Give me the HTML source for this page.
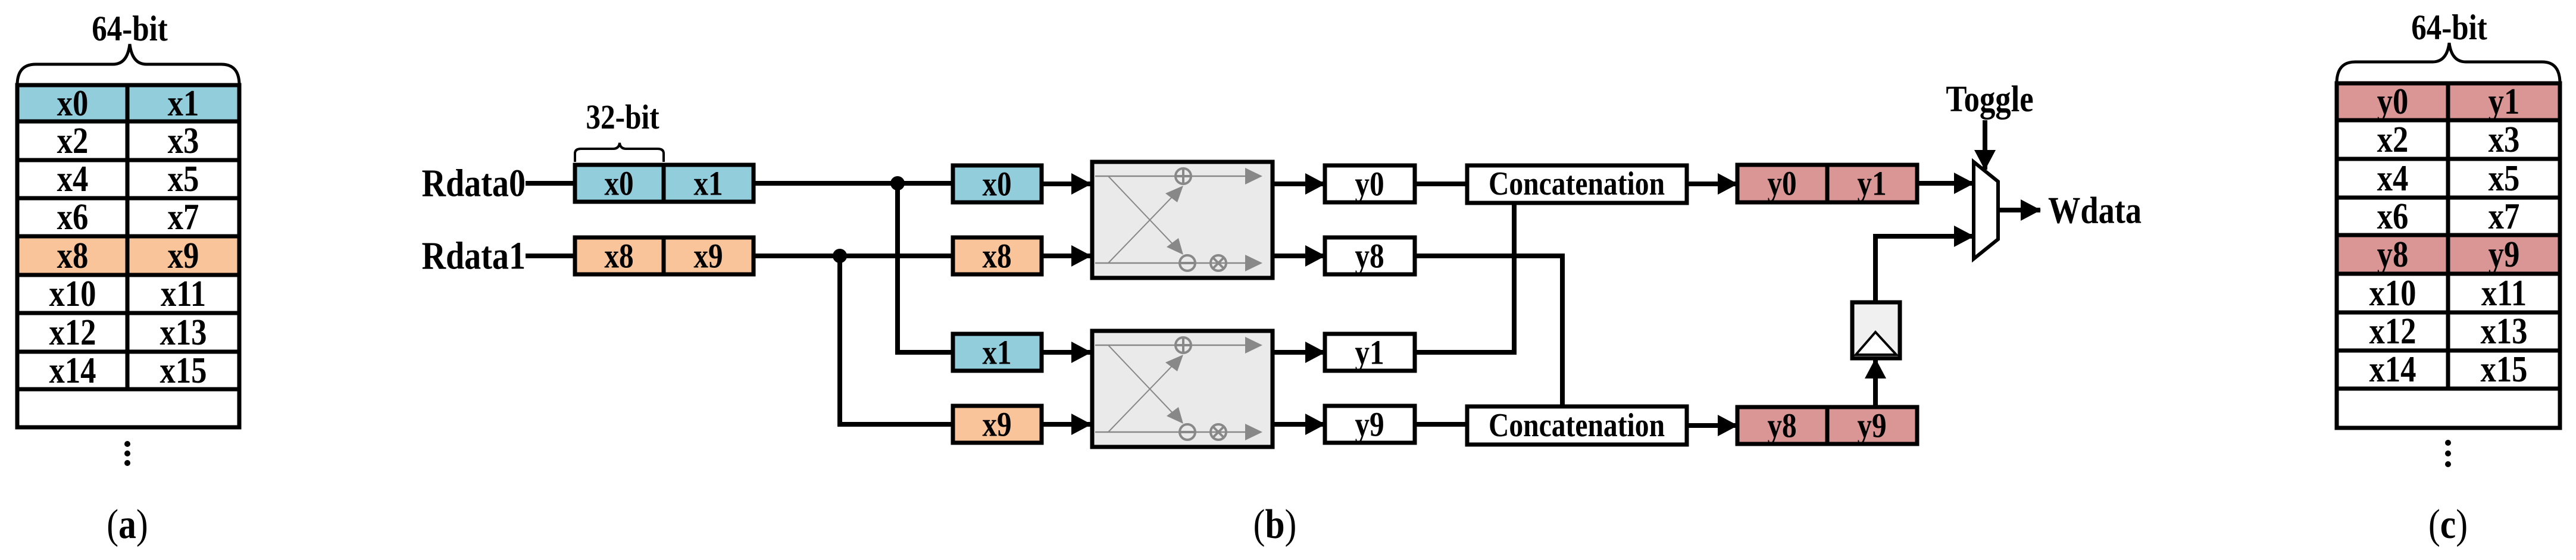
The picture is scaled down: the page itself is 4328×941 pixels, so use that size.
<!DOCTYPE html>
<html><head><meta charset="utf-8"><style>
html,body{margin:0;padding:0;background:#fff;}
svg{display:block;}
text{font-family:"Liberation Serif",serif;font-weight:bold;fill:#000;transform-box:fill-box;transform-origin:center;transform:scaleX(0.85);}
text.r{transform-origin:right center;}
text.l{transform-origin:left center;}
</style></head><body>
<svg width="4328" height="941" viewBox="0 0 4328 941" xmlns="http://www.w3.org/2000/svg">
<defs>
<marker id="ah" markerWidth="34" markerHeight="36" refX="33" refY="18" orient="auto" markerUnits="userSpaceOnUse">
<path d="M0,0 L34,18 L0,36 Z" fill="#000"/></marker>
</defs>

<!-- Table (a) -->
<g stroke="#000" stroke-width="7">
<rect x="29" y="143" width="373" height="61" fill="#92CDDC"/>
<rect x="29" y="397" width="373" height="65" fill="#F9C49A"/>
<rect x="29" y="143" width="373" height="575" fill="none"/>
<line x1="29" y1="204" x2="402" y2="204"/><line x1="29" y1="269" x2="402" y2="269"/>
<line x1="29" y1="333" x2="402" y2="333"/><line x1="29" y1="397" x2="402" y2="397"/>
<line x1="29" y1="462" x2="402" y2="462"/><line x1="29" y1="526" x2="402" y2="526"/>
<line x1="29" y1="591" x2="402" y2="591"/><line x1="29" y1="654" x2="402" y2="654"/>
<line x1="214" y1="143" x2="214" y2="654"/>
</g>
<path d="M29,143 Q29,108 60,108 L190,108 Q214,108 218,74 Q222,108 246,108 L372,108 Q402,108 402,143" fill="none" stroke="#000" stroke-width="5"/>
<text x="218" y="68" font-size="60" text-anchor="middle">64-bit</text>
<g font-size="62" text-anchor="middle" dominant-baseline="central">
<text x="122" y="174">x0</text><text x="308" y="174">x1</text>
<text x="122" y="237">x2</text><text x="308" y="237">x3</text>
<text x="122" y="301">x4</text><text x="308" y="301">x5</text>
<text x="122" y="365">x6</text><text x="308" y="365">x7</text>
<text x="122" y="430">x8</text><text x="308" y="430">x9</text>
<text x="122" y="494">x10</text><text x="308" y="494">x11</text>
<text x="122" y="559">x12</text><text x="308" y="559">x13</text>
<text x="122" y="623">x14</text><text x="308" y="623">x15</text>
</g>
<g fill="#000"><circle cx="214" cy="746" r="5"/><circle cx="214" cy="762" r="5"/><circle cx="214" cy="778" r="5"/></g>
<text x="214" y="904" font-size="70" text-anchor="middle" style="font-weight:normal">(<tspan font-weight="bold">a</tspan>)</text>

<!-- Table (c) -->
<g stroke="#000" stroke-width="7">
<rect x="3926" y="140" width="375" height="62" fill="#D99694"/>
<rect x="3926" y="395" width="375" height="65" fill="#D99694"/>
<rect x="3926" y="140" width="375" height="579" fill="none"/>
<line x1="3926" y1="202" x2="4301" y2="202"/><line x1="3926" y1="267" x2="4301" y2="267"/>
<line x1="3926" y1="332" x2="4301" y2="332"/><line x1="3926" y1="395" x2="4301" y2="395"/>
<line x1="3926" y1="460" x2="4301" y2="460"/><line x1="3926" y1="525" x2="4301" y2="525"/>
<line x1="3926" y1="589" x2="4301" y2="589"/><line x1="3926" y1="653" x2="4301" y2="653"/>
<line x1="4113" y1="140" x2="4113" y2="653"/>
</g>
<path d="M3926,140 Q3926,104 3957,104 L4087,104 Q4111,104 4115,72 Q4119,104 4143,104 L4271,104 Q4301,104 4301,140" fill="none" stroke="#000" stroke-width="5"/>
<text x="4115" y="66" font-size="60" text-anchor="middle">64-bit</text>
<g font-size="62" text-anchor="middle" dominant-baseline="central">
<text x="4020" y="171">y0</text><text x="4207" y="171">y1</text>
<text x="4020" y="235">x2</text><text x="4207" y="235">x3</text>
<text x="4020" y="300">x4</text><text x="4207" y="300">x5</text>
<text x="4020" y="364">x6</text><text x="4207" y="364">x7</text>
<text x="4020" y="428">y8</text><text x="4207" y="428">y9</text>
<text x="4020" y="493">x10</text><text x="4207" y="493">x11</text>
<text x="4020" y="557">x12</text><text x="4207" y="557">x13</text>
<text x="4020" y="621">x14</text><text x="4207" y="621">x15</text>
</g>
<g fill="#000"><circle cx="4113" cy="744" r="5"/><circle cx="4113" cy="762" r="5"/><circle cx="4113" cy="780" r="5"/></g>
<text x="4113" y="904" font-size="70" text-anchor="middle" style="font-weight:normal">(<tspan font-weight="bold">c</tspan>)</text>

<text x="2142" y="904" font-size="70" text-anchor="middle" style="font-weight:normal">(<tspan font-weight="bold">b</tspan>)</text>

<!-- (b) wires -->
<g stroke="#000" stroke-width="8" fill="none">
<line x1="883" y1="308" x2="966" y2="308"/>
<line x1="883" y1="430" x2="966" y2="430"/>
<line x1="1266" y1="308" x2="1601" y2="308"/>
<line x1="1266" y1="430" x2="1601" y2="430"/>
<polyline points="1508,308 1508,592 1601,592"/>
<polyline points="1411,430 1411,713 1601,713"/>
<line x1="1750" y1="309" x2="1833" y2="309" marker-end="url(#ah)"/>
<line x1="1750" y1="430" x2="1833" y2="430" marker-end="url(#ah)"/>
<line x1="1750" y1="592" x2="1833" y2="592" marker-end="url(#ah)"/>
<line x1="1750" y1="713" x2="1833" y2="713" marker-end="url(#ah)"/>
<line x1="2140" y1="309" x2="2226" y2="309" marker-end="url(#ah)"/>
<line x1="2140" y1="430" x2="2226" y2="430" marker-end="url(#ah)"/>
<line x1="2140" y1="592" x2="2226" y2="592" marker-end="url(#ah)"/>
<line x1="2140" y1="713" x2="2226" y2="713" marker-end="url(#ah)"/>
<line x1="2377" y1="309" x2="2465" y2="309"/>
<line x1="2377" y1="713" x2="2465" y2="713"/>
<polyline points="2377,592 2544,592 2544,341"/>
<polyline points="2377,430 2625,430 2625,683"/>
<line x1="2834" y1="309" x2="2919" y2="309" marker-end="url(#ah)"/>
<line x1="2834" y1="715" x2="2919" y2="715" marker-end="url(#ah)"/>
<line x1="3221" y1="308" x2="3316" y2="308" marker-end="url(#ah)"/>
<polyline points="3151,508 3151,397 3316,397" marker-end="url(#ah)"/>
<line x1="3151" y1="683" x2="3151" y2="603" marker-end="url(#ah)"/>
<line x1="3335" y1="202" x2="3335" y2="285" marker-end="url(#ah)"/>
<line x1="3357" y1="353" x2="3428" y2="353" marker-end="url(#ah)"/>
</g>
<g fill="#000"><circle cx="1508" cy="308" r="12"/><circle cx="1411" cy="430" r="12"/></g>

<text class="r" x="883" y="308" font-size="66" text-anchor="end" dominant-baseline="central">Rdata0</text>
<text class="r" x="883" y="430" font-size="66" text-anchor="end" dominant-baseline="central">Rdata1</text>

<!-- input boxes -->
<g stroke="#000" stroke-width="7">
<rect x="966" y="277" width="300" height="62" fill="#92CDDC"/>
<line x1="1115" y1="277" x2="1115" y2="339"/>
<rect x="966" y="399" width="300" height="62" fill="#F9C49A"/>
<line x1="1115" y1="399" x2="1115" y2="461"/>
<rect x="1601" y="278" width="149" height="62" fill="#92CDDC"/>
<rect x="1601" y="399" width="149" height="62" fill="#F9C49A"/>
<rect x="1601" y="561" width="149" height="62" fill="#92CDDC"/>
<rect x="1601" y="682" width="149" height="62" fill="#F9C49A"/>
<rect x="2226" y="278" width="151" height="62" fill="#fff"/>
<rect x="2226" y="399" width="151" height="62" fill="#fff"/>
<rect x="2226" y="561" width="151" height="62" fill="#fff"/>
<rect x="2226" y="682" width="151" height="62" fill="#fff"/>
<rect x="2465" y="278" width="369" height="63" fill="#fff"/>
<rect x="2465" y="683" width="369" height="64" fill="#fff"/>
<rect x="2919" y="277" width="302" height="63" fill="#D99694"/>
<line x1="3070" y1="277" x2="3070" y2="340"/>
<rect x="2919" y="684" width="302" height="62" fill="#D99694"/>
<line x1="3070" y1="684" x2="3070" y2="746"/>
<rect x="3112" y="508" width="80" height="94" fill="#F0F0F0"/>
<polygon points="3316,272 3357,305 3357,402 3316,435" fill="#fff" stroke-width="6"/>
</g>
<polygon points="3118,596 3151,558 3186,596" fill="#fff" stroke="#000" stroke-width="4"/>

<path d="M966,272 L966,258 Q966,250 976,250 L1030,250 Q1040,250 1041,240 Q1042,250 1052,250 L1105,250 Q1115,250 1115,258 L1115,272" fill="none" stroke="#000" stroke-width="4"/>
<text x="1046" y="216" font-size="58" text-anchor="middle">32-bit</text>

<g font-size="58" text-anchor="middle" dominant-baseline="central">
<text x="1040" y="308">x0</text><text x="1190" y="308">x1</text>
<text x="1040" y="430">x8</text><text x="1190" y="430">x9</text>
<text x="1675" y="309">x0</text><text x="1675" y="430">x8</text>
<text x="1675" y="592">x1</text><text x="1675" y="713">x9</text>
<text x="2301" y="309">y0</text><text x="2301" y="430">y8</text>
<text x="2301" y="592">y1</text><text x="2301" y="713">y9</text>
<text x="2649" y="309" font-size="56">Concatenation</text>
<text x="2649" y="715" font-size="56">Concatenation</text>
<text x="2994" y="308">y0</text><text x="3145" y="308">y1</text>
<text x="2994" y="715">y8</text><text x="3145" y="715">y9</text>
</g>
<text x="3343" y="187" font-size="62" text-anchor="middle">Toggle</text>
<text class="l" x="3441" y="353" font-size="64" dominant-baseline="central">Wdata</text>

<!-- butterflies -->
<g id="bf">
<rect x="1835" y="272" width="303" height="195" fill="#EAEAEA" stroke="#000" stroke-width="7"/>
<g stroke="#888" fill="none">
<line x1="1840" y1="296" x2="2100" y2="296" stroke-width="2.5"/>
<line x1="1840" y1="442" x2="2100" y2="442" stroke-width="2.5"/>
<line x1="1862" y1="296" x2="1975" y2="415" stroke-width="2"/>
<line x1="1862" y1="442" x2="1975" y2="325" stroke-width="2"/>
<circle cx="1988" cy="296" r="13" stroke-width="4"/>
<line x1="1975" y1="296" x2="2001" y2="296" stroke-width="4"/><line x1="1988" y1="283" x2="1988" y2="309" stroke-width="4"/>
<circle cx="1995" cy="442" r="13" stroke-width="4"/>
<line x1="1982" y1="442" x2="2008" y2="442" stroke-width="4"/>
<circle cx="2047" cy="442" r="13" stroke-width="4"/>
<line x1="2038" y1="433" x2="2056" y2="451" stroke-width="4"/><line x1="2056" y1="433" x2="2038" y2="451" stroke-width="4"/>
</g>
<g fill="#888">
<polygon points="2092,282 2121,296 2092,310"/>
<polygon points="2092,428 2121,442 2092,456"/>
<polygon points="1988,312 1958,325 1978,340"/>
<polygon points="1988,428 1960,415 1980,400"/>
</g>
</g>
<use href="#bf" transform="translate(0,284)"/>
</svg>
</body></html>
